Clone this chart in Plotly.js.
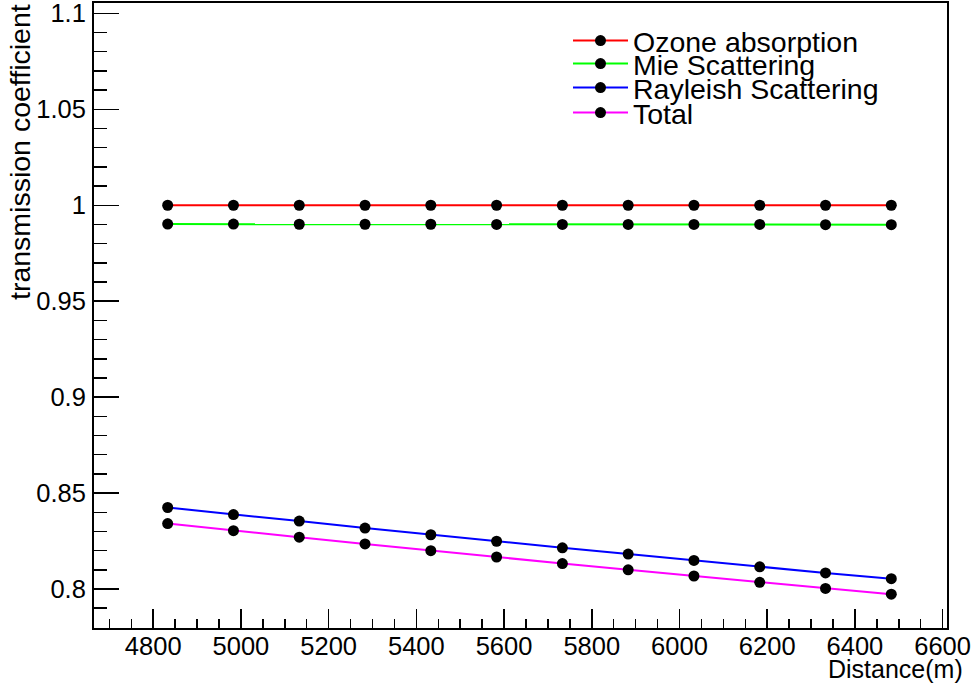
<!DOCTYPE html>
<html><head><meta charset="utf-8">
<script src="https://cdn.plot.ly/plotly-3.0.1.min.js"></script>
<style>html,body{margin:0;padding:0;background:#fff}</style>
</head><body><div id="chart" style="width:971px;height:686px"></div>
<script>
const distance = [4833, 4983, 5133, 5283, 5433, 5583, 5733, 5883, 6033, 6183, 6333, 6483];
const ozone    = [1.0, 1.0, 1.0, 1.0, 1.0, 1.0, 1.0, 1.0, 1.0, 1.0, 1.0, 1.0];
const mie      = [0.9902, 0.9902, 0.9901, 0.9901, 0.9901, 0.9900, 0.9900, 0.9900, 0.9900, 0.9900, 0.9899, 0.9899];
const rayleigh = [0.8425, 0.8388, 0.8354, 0.8318, 0.8283, 0.8249, 0.8215, 0.8182, 0.8149, 0.8116, 0.8084, 0.8054];
const total    = [0.8341, 0.8304, 0.8270, 0.8235, 0.8200, 0.8167, 0.8133, 0.8100, 0.8068, 0.8035, 0.8003, 0.7973];
const seriesNames = ["Ozone absorption", "Mie Scattering", "Rayleish Scattering", "Total"];
const seriesColors = ["#ff0000", "#00ff00", "#0000ff", "#ff00ff"];
const xTickVals = [4800, 5000, 5200, 5400, 5600, 5800, 6000, 6200, 6400, 6600];
const xTickText = ["4800", "5000", "5200", "5400", "5600", "5800", "6000", "6200", "6400", "6600"];
const yTickVals = [0.8, 0.85, 0.9, 0.95, 1.0, 1.05, 1.1];
const yTickText = ["0.8", "0.85", "0.9", "0.95", "1", "1.05", "1.1"];

const FONT = '"Liberation Sans", Arial, Helvetica, sans-serif';
const seriesData = [ozone, mie, rayleigh, total];
const legendIds = ["legend", "legend2", "legend3", "legend4"];

const traces = seriesData.map((ys, i) => ({
  x: distance, y: ys, type: "scatter", mode: "lines+markers",
  name: seriesNames[i],
  line: {color: seriesColors[i], width: 2},
  marker: {color: "#000", size: 11},
  legend: legendIds[i]
}));

// legend item centres in pixels (plot area 3..628 vertically, 94..947 horizontally)
const legendPx = [41, 64, 88, 113];
const plotTop = 3, plotBottom = 628, plotLeft = 94, plotRight = 947;
const toPaperY = p => (plotBottom - p) / (plotBottom - plotTop);
const toPaperX = p => (p - plotLeft) / (plotRight - plotLeft);

const layout = {
  width: 971, height: 686,
  margin: {l: plotLeft, r: 971 - plotRight, t: plotTop, b: 686 - plotBottom},
  paper_bgcolor: "#fff", plot_bgcolor: "#fff",
  font: {family: FONT, color: "#000", size: 25.5},
  showlegend: true,
  xaxis: {
    range: [4665, 6610],
    tickmode: "array", tickvals: xTickVals, ticktext: xTickText,
    ticks: "inside", ticklen: 19, tickwidth: 1.5, tickcolor: "#000",
    minor: {tickmode: "linear", tick0: 0, dtick: 50, ticks: "inside", ticklen: 9, tickwidth: 1.5, tickcolor: "#000", showgrid: false},
    showgrid: false, zeroline: false,
    showline: true, linecolor: "#000", linewidth: 2, mirror: true,
    tickfont: {family: FONT, size: 25.5},
    ticklabelstandoff: -6, ticklabeloverflow: "allow"
  },
  yaxis: {
    range: [0.7797, 1.1054],
    tickmode: "array", tickvals: yTickVals, ticktext: yTickText,
    ticks: "inside", ticklen: 25, tickwidth: 1.5, tickcolor: "#000",
    minor: {tickmode: "linear", tick0: 0, dtick: 0.01, ticks: "inside", ticklen: 13, tickwidth: 1.5, tickcolor: "#000", showgrid: false},
    showgrid: false, zeroline: false,
    showline: true, linecolor: "#000", linewidth: 2, mirror: true,
    tickfont: {family: FONT, size: 25.5},
    ticklabelstandoff: 1, ticklabeloverflow: "allow"
  },
  annotations: [
    {text: "transmission coefficient", xref: "paper", yref: "paper",
     x: toPaperX(20), y: toPaperY(2), xanchor: "center", yanchor: "top", textangle: -90,
     showarrow: false, font: {family: FONT, size: 28.5}},
    {text: "Distance(m)", xref: "paper", yref: "paper",
     x: toPaperX(965), y: toPaperY(669), xanchor: "right", yanchor: "middle",
     showarrow: false, font: {family: FONT, size: 25}}
  ]
};
legendIds.forEach((id, i) => {
  layout[id] = {
    x: toPaperX(568), y: toPaperY(legendPx[i]), xanchor: "left", yanchor: "middle",
    bgcolor: "rgba(0,0,0,0)", borderwidth: 0,
    font: {family: FONT, size: 28.5}, itemwidth: 55
  };
});

Plotly.newPlot("chart", traces, layout, {staticPlot: true, displayModeBar: false});
</script></body></html>
